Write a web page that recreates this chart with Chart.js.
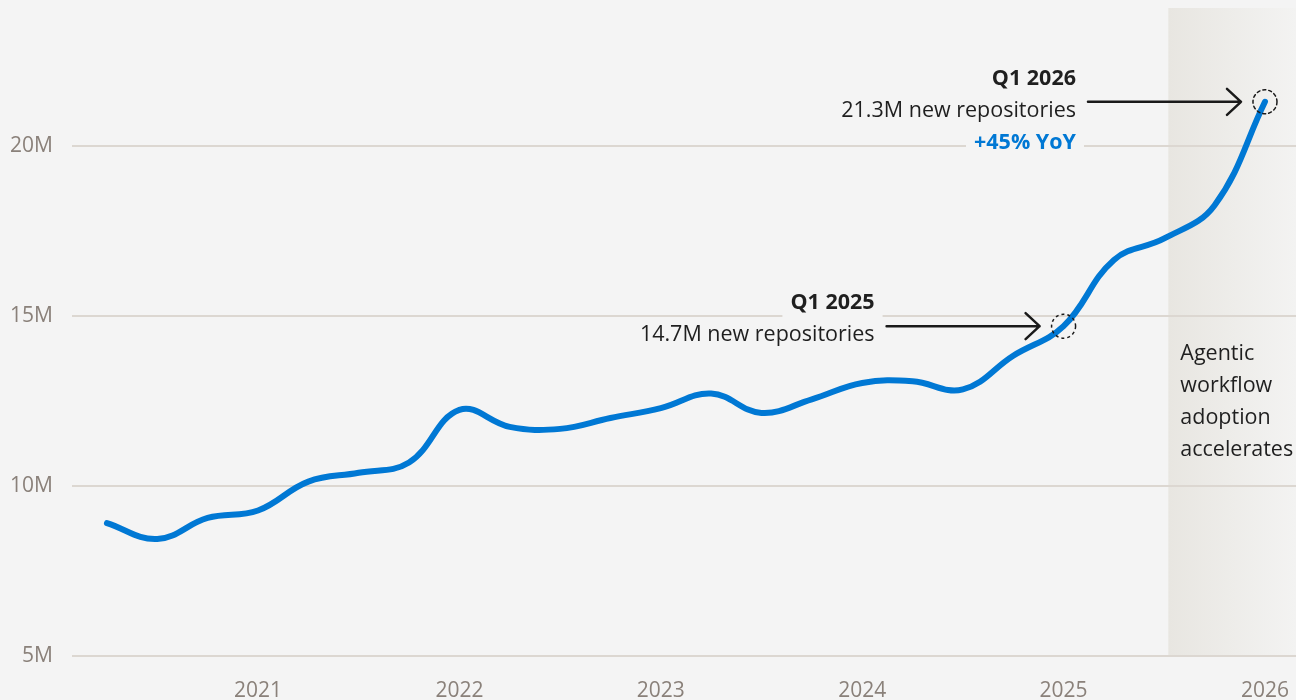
<!DOCTYPE html>
<html>
<head>
<meta charset="utf-8">
<script src="https://cdn.jsdelivr.net/npm/chart.js@4.4.1/dist/chart.umd.min.js"></script>
<style>
  html, body { margin: 0; padding: 0; background: #f4f4f4; }
  #wrap { width: 1296px; height: 700px; }
</style>
</head>
<body>
<div id="wrap"><canvas id="repoChart" width="1296" height="700"></canvas></div>
<script>
// quarterly new repositories (millions)
const quarters = ["Q2 2020", "Q3 2020", "Q4 2020", "Q1 2021", "Q2 2021", "Q3 2021", "Q4 2021",
  "Q1 2022", "Q2 2022", "Q3 2022", "Q4 2022", "Q1 2023", "Q2 2023", "Q3 2023", "Q4 2023",
  "Q1 2024", "Q2 2024", "Q3 2024", "Q4 2024", "Q1 2025", "Q2 2025", "Q3 2025", "Q4 2025", "Q1 2026"];
const newRepos = [8.91, 8.44, 9.06, 9.28, 10.13, 10.39, 10.69,
  12.24, 11.74, 11.68, 12.0, 12.29, 12.72, 12.15, 12.55,
  13.03, 13.08, 12.84, 13.83, 14.7, 16.65, 17.28, 18.26, 21.3];
const yearTicks = [2021, 2022, 2023, 2024, 2025, 2026];
const valueTicks = [5, 10, 15, 20];

const callouts = [
  { quarter: "Q1 2025", lines: ["Q1 2025", "14.7M new repositories"] },
  { quarter: "Q1 2026", lines: ["Q1 2026", "21.3M new repositories", "+45% YoY"] }
];
const shadeNote = ["Agentic", "workflow", "adoption", "accelerates"];

// "Q1 2021" -> 2021.0
function quarterToX(q) {
  const parts = q.split(" ");
  return parseInt(parts[1]) + (parseInt(parts[0].slice(1)) - 1) / 4;
}

const points = quarters.map((q, i) => ({ x: quarterToX(q), y: newRepos[i] }));

const BG = "#f4f4f4";
const FONT = "'Open Sans', 'Noto Sans', sans-serif";
const SHADE_FROM = 2025.52;

const annotations = {
  id: "annotations",
  beforeDraw(chart) {
    const { ctx, chartArea, scales } = chart;
    const x0 = scales.x.getPixelForValue(SHADE_FROM);
    const top = chartArea.top - 2;
    const grad = ctx.createLinearGradient(x0, 0, chart.width, 0);
    grad.addColorStop(0, "#e8e6e1");
    grad.addColorStop(1, "#f3f3f2");
    ctx.save();
    ctx.fillStyle = grad;
    ctx.fillRect(x0, top, chart.width - x0, chartArea.bottom - top);
    ctx.restore();
  },
  afterDraw(chart) {
    const { ctx, scales } = chart;
    ctx.save();

    // note in the shaded band
    const x0 = scales.x.getPixelForValue(SHADE_FROM);
    ctx.font = "21.5px " + FONT;
    ctx.fillStyle = "#1f1f1f";
    ctx.textAlign = "left";
    ctx.textBaseline = "alphabetic";
    shadeNote.forEach((t, i) => ctx.fillText(t, x0 + 12, 360 + i * 32));

    callouts.forEach(c => {
      const idx = quarters.indexOf(c.quarter);
      const px = scales.x.getPixelForValue(quarterToX(c.quarter));
      const py = scales.y.getPixelForValue(newRepos[idx]);

      // dashed ring
      ctx.setLineDash([3, 3]);
      ctx.lineWidth = 1.5;
      ctx.strokeStyle = "#1a1a1a";
      ctx.beginPath();
      ctx.arc(px, py, 12, 0, Math.PI * 2);
      ctx.stroke();
      ctx.setLineDash([]);

      // arrow
      const ax1 = px - 177, ax2 = px - 24;
      ctx.lineWidth = 2.5;
      ctx.lineCap = "round";
      ctx.lineJoin = "round";
      ctx.beginPath();
      ctx.moveTo(ax1, py);
      ctx.lineTo(ax2, py);
      ctx.moveTo(ax2 - 14, py - 13);
      ctx.lineTo(ax2, py);
      ctx.lineTo(ax2 - 14, py + 13);
      ctx.stroke();

      // text block, right aligned
      const right = ax1 - 12;
      const base0 = py - 17;
      ctx.textAlign = "right";
      c.lines.forEach((t, i) => {
        const bold = i === 0 || i === 2;
        ctx.font = (bold ? "bold " : "") + "21.5px " + FONT;
        const w = ctx.measureText(t).width;
        const by = base0 + i * 32;
        ctx.fillStyle = BG;
        ctx.fillRect(right - w - 8, by - 20, w + 16, 28);
        ctx.fillStyle = i === 2 ? "#0078d4" : "#1f1f1f";
        ctx.fillText(t, right, by);
      });
    });
    ctx.restore();
  }
};

const chart = new Chart(document.getElementById("repoChart"), {
  type: "line",
  data: {
    datasets: [{
      label: "New repositories",
      data: points,
      borderColor: "#0078d4",
      borderWidth: 6,
      borderCapStyle: "round",
      borderJoinStyle: "round",
      pointRadius: 0,
      tension: 0.4,
      fill: false
    }]
  },
  options: {
    responsive: false,
    animation: false,
    layout: { padding: { top: 10, right: 0, left: 0, bottom: 0 } },
    plugins: {
      legend: { display: false },
      tooltip: { enabled: false }
    },
    scales: {
      x: {
        type: "linear",
        min: 2020.0765,
        max: 2026.154,
        grid: { display: false },
        border: { display: false },
        afterBuildTicks: s => { s.ticks = yearTicks.map(v => ({ value: v })); },
        afterFit: s => { s.height = 44; s.paddingLeft = 0; s.paddingRight = 0; },
        ticks: {
          padding: 14,
          maxRotation: 0,
          color: "#8a817a",
          font: { family: FONT, size: 21 },
          callback: v => String(v)
        }
      },
      y: {
        min: 5,
        max: 24,
        border: { display: false },
        grid: { color: "#dcd7d1", lineWidth: 2, drawTicks: false },
        afterBuildTicks: s => { s.ticks = valueTicks.map(v => ({ value: v })); },
        afterFit: s => { s.width = 72; s.paddingTop = 0; s.paddingBottom = 0; },
        ticks: {
          padding: 19,
          color: "#8a817a",
          font: { family: FONT, size: 21 },
          callback: v => v + "M"
        }
      }
    }
  },
  plugins: [annotations]
});
</script>
</body>
</html>
